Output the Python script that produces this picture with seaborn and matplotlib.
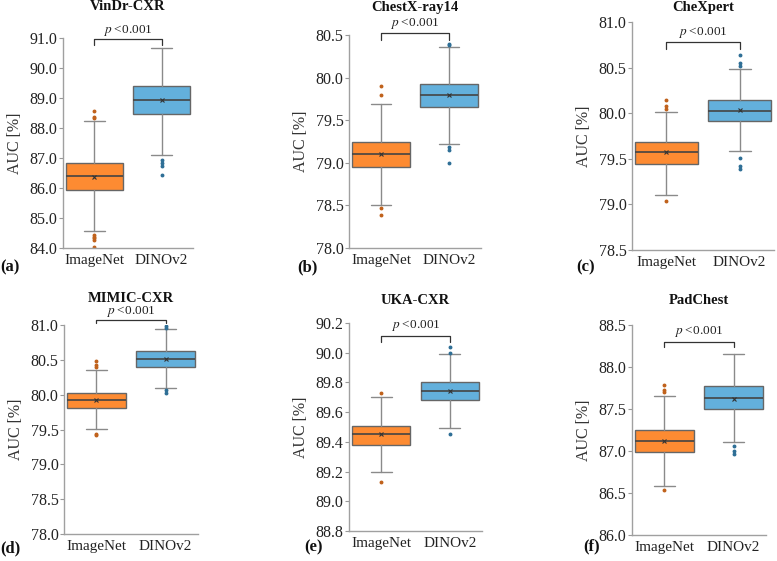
import matplotlib.pyplot as plt
import seaborn as sns

sns.set_theme(style='ticks')
plt.rcParams['font.family'] = ['Liberation Serif', 'DejaVu Serif']
plt.rcParams['mathtext.fontset'] = 'stix'

models = ['ImageNet', 'DINOv2']
datasets = ['VinDr-CXR', 'ChestX-ray14', 'CheXpert', 'MIMIC-CXR', 'UKA-CXR', 'PadChest']
panel_tags = ['(a)', '(b)', '(c)', '(d)', '(e)', '(f)']

# [whisker low, q1, median, q3, whisker high] in AUC %
imagenet_box = [
    [84.58, 85.92, 86.39, 86.83, 88.22],
    [78.51, 78.95, 79.10, 79.24, 79.69],
    [79.10, 79.44, 79.57, 79.68, 80.01],
    [79.51, 79.81, 79.92, 80.02, 80.35],
    [89.20, 89.38, 89.45, 89.51, 89.70],
    [86.58, 86.99, 87.12, 87.25, 87.65],
]
dinov2_box = [
    [87.11, 88.48, 88.94, 89.39, 90.67],
    [79.22, 79.65, 79.79, 79.93, 80.36],
    [79.59, 79.91, 80.02, 80.14, 80.48],
    [80.10, 80.40, 80.51, 80.63, 80.94],
    [89.49, 89.68, 89.74, 89.80, 89.99],
    [87.11, 87.50, 87.63, 87.77, 88.16],
]
imagenet_mean = [86.37, 79.10, 79.57, 79.92, 89.45, 87.12]
dinov2_mean = [88.92, 79.79, 80.03, 80.51, 89.74, 87.62]
imagenet_fliers = [
    [84.02, 84.28, 84.33, 84.38, 84.45, 88.33, 88.38, 88.58],
    [78.39, 78.47, 79.80, 79.90],
    [79.04, 80.05, 80.08, 80.15],
    [79.42, 79.44, 80.40, 80.43, 80.48],
    [89.13, 89.73],
    [86.54, 87.70, 87.73, 87.79],
]
dinov2_fliers = [
    [86.45, 86.75, 86.85, 86.92],
    [79.00, 79.15, 79.19, 80.38, 80.39],
    [79.39, 79.42, 79.51, 80.52, 80.55, 80.64],
    [80.02, 80.07, 80.96, 80.99],
    [89.45, 90.00, 90.04],
    [86.97, 87.00, 87.06],
]
y_ticks = [
    [84.0, 85.0, 86.0, 87.0, 88.0, 89.0, 90.0, 91.0],
    [78.0, 78.5, 79.0, 79.5, 80.0, 80.5],
    [78.5, 79.0, 79.5, 80.0, 80.5, 81.0],
    [78.0, 78.5, 79.0, 79.5, 80.0, 80.5, 81.0],
    [88.8, 89.0, 89.2, 89.4, 89.6, 89.8, 90.0, 90.2],
    [86.0, 86.5, 87.0, 87.5, 88.0, 88.5],
]
# bracket: [leg bottom, bracket top, text y] in data units
bracket_y = [
    [90.77, 90.97, 91.25],
    [80.44, 80.52, 80.64],
    [80.70, 80.78, 80.89],
    [81.03, 81.07, 81.19],
    [90.07, 90.11, 90.18],
    [88.24, 88.30, 88.42],
]

box_colors = ['#fd8b32', '#63b0dc']
flier_colors = ['#c0621c', '#2f6f96']

W, H = 777, 561
# axes rectangles in pixels: left, right, top, bottom
axes_px = [
    (63, 193, 38, 248), (349, 481, 35, 248), (632, 774, 22, 250),
    (64, 198, 325, 534), (349, 482, 323, 531), (632, 766, 325, 535),
]
tag_px = [(0, 267), (297, 267), (576, 267), (0, 548), (304, 547), (583, 546)]
title_y = [7, 7, 7, 299, 300, 300]

fig = plt.figure(figsize=(W / 100, H / 100), dpi=100)

for i, name in enumerate(datasets):
    l, r, t, b = axes_px[i]
    ax = fig.add_axes([l / W, 1 - b / H, (r - l) / W, (b - t) / H])

    stats = []
    for k, (box, mean, fl) in enumerate(zip([imagenet_box[i], dinov2_box[i]],
                                             [imagenet_mean[i], dinov2_mean[i]],
                                             [imagenet_fliers[i], dinov2_fliers[i]])):
        stats.append(dict(label=models[k], whislo=box[0], q1=box[1], med=box[2],
                          q3=box[3], whishi=box[4], mean=mean, fliers=fl))

    bp = ax.bxp(stats, positions=[0, 1], widths=0.85, patch_artist=True,
                showmeans=True, showfliers=True, capwidths=0.3,
                boxprops=dict(edgecolor='#666666', linewidth=1.0),
                medianprops=dict(color='#444444', linewidth=1.2),
                whiskerprops=dict(color='#8a8a8a', linewidth=1.0),
                capprops=dict(color='#8a8a8a', linewidth=1.0),
                meanprops=dict(marker='x', markersize=3.5, markeredgecolor='#333333',
                               markeredgewidth=0.8))
    for k, patch in enumerate(bp['boxes']):
        patch.set_facecolor(box_colors[k])
    for k, fl in enumerate(bp['fliers']):
        fl.set(marker='o', markersize=1.8, markerfacecolor=flier_colors[k],
               markeredgecolor=flier_colors[k], linestyle='none')

    ax.set_xlim(-0.47, 1.47)
    ax.set_ylim(y_ticks[i][0], y_ticks[i][-1])
    ax.set_yticks(y_ticks[i])
    ax.set_yticklabels([f'{v:.1f}' for v in y_ticks[i]])
    ax.set_xticks([0, 1])
    ax.set_xticklabels(models)
    ax.tick_params(axis='y', length=3, width=0.8, color='#999999', labelsize=11.5,
                   labelcolor='#222222', pad=1)
    ax.tick_params(axis='x', length=0, labelsize=11, labelcolor='#222222', pad=4)
    ax.set_ylabel('AUC [%]', fontsize=11.5, color='#333333', labelpad=5)
    sns.despine(ax=ax)
    for s in ['left', 'bottom']:
        ax.spines[s].set_color('#a0a0a0')
        ax.spines[s].set_linewidth(1.0)

    lo, top, ty = bracket_y[i]
    ax.plot([0, 0, 1, 1], [lo, top, top, lo], color='#333333', lw=0.9, clip_on=False)
    ax.text(0.5, ty, r'$\it{p}$ <0.001', ha='center', va='center', fontsize=9.5,
            color='#222222', clip_on=False)

    fig.text(((l + r) / 2) / W, 1 - title_y[i] / H, name, ha='center', va='center',
             fontsize=10.5, fontweight='bold', color='#111111')
    fig.text(tag_px[i][0] / W, 1 - tag_px[i][1] / H, panel_tags[i], ha='left',
             va='center', fontsize=12, fontweight='bold', color='#111111')

fig.savefig('out.png', dpi=100)
